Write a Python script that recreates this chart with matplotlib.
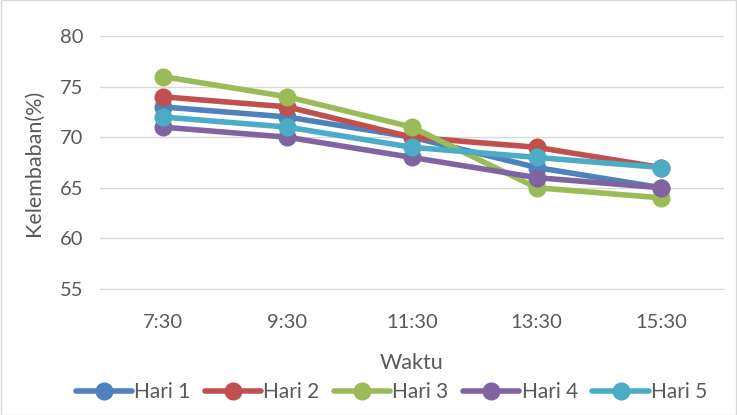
import matplotlib.pyplot as plt
from matplotlib.patches import Rectangle

waktu = ["7:30", "9:30", "11:30", "13:30", "15:30"]
hari1 = [73, 72, 70, 67, 65]
hari2 = [74, 73, 70, 69, 67]
hari3 = [76, 74, 71, 65, 64]
hari4 = [71, 70, 68, 66, 65]
hari5 = [72, 71, 69, 68, 67]

series = [("Hari 1", hari1, "#4f81bd"),
          ("Hari 2", hari2, "#c0504d"),
          ("Hari 3", hari3, "#9bbb59"),
          ("Hari 4", hari4, "#8064a2"),
          ("Hari 5", hari5, "#4bacc6")]

plt.rcParams['font.family'] = ['Lato', 'DejaVu Sans']

fig = plt.figure(figsize=(7.37, 4.15), dpi=100)
ax = fig.add_axes([0.136, 0.304, 0.846, 0.609])

x = list(range(len(waktu)))
for name, vals, col in series:
    ax.plot(x, vals, color=col, lw=4, marker="o", ms=12, label=name,
            solid_capstyle="round")

ax.set_xlim(-0.5, len(waktu) - 0.5)
ax.set_ylim(55, 80)
ax.set_yticks(range(55, 81, 5))
ax.set_xticks(x)
ax.set_xticklabels(waktu)
ax.grid(axis="y", color="#d9d9d9", lw=1)
ax.set_axisbelow(True)
for s in ["top", "right", "left"]:
    ax.spines[s].set_visible(False)
ax.spines["bottom"].set_color("#d9d9d9")
ax.tick_params(axis="y", length=0, labelsize=14.5, colors="#595959", pad=12)
ax.tick_params(axis="x", length=0, labelsize=14.5, colors="#595959", pad=18)
ax.set_xlabel("Waktu", fontsize=15.5, color="#595959", labelpad=16)
ax.set_ylabel("Kelembaban(%)", fontsize=15.5, color="#595959", labelpad=12)

fig.legend(*ax.get_legend_handles_labels(), loc="center",
           bbox_to_anchor=(0.531, 0.055), ncol=5, frameon=False,
           fontsize=15, handlelength=2.7, columnspacing=0.7, handletextpad=0.1,
           labelcolor="#595959")

fig.patches.append(Rectangle((0.001, 0.001), 0.998, 0.998, transform=fig.transFigure,
                             fill=False, edgecolor="#d9d9d9", lw=1))

fig.savefig("out.png", dpi=100)
